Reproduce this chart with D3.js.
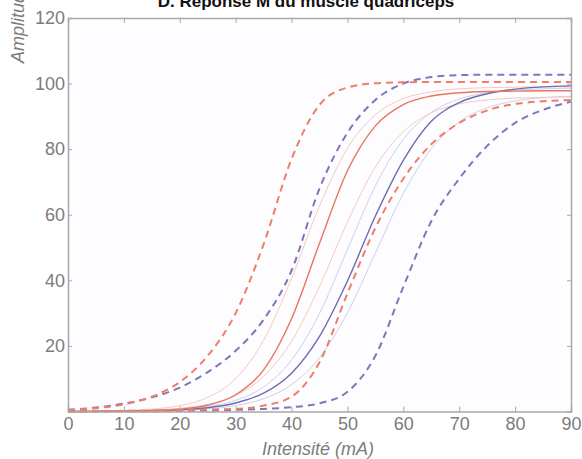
<!DOCTYPE html>
<html><head><meta charset="utf-8">
<script src="https://cdn.jsdelivr.net/npm/d3@7/dist/d3.min.js"></script>
<style>body{margin:0;background:#fff}svg{display:block}</style>
</head><body><svg id="c" width="582" height="459"></svg>
<script>
const xs = [0,5,10,15,20,25,30,35,40,45,50,55,60,65,70,75,80,85,90];
const redDashedA  = [0.5,1.0,2.2,4.5,9,17,30,51,77,93.5,98.8,100.1,100.4,100.5,100.5,100.5,100.5,100.5,100.5];
const blueDashedA = [0.5,1.2,2.4,4.3,7.3,12,18.5,28,43,68,85,95,100,102,102.6,102.7,102.7,102.7,102.7];
const redSolid    = [0,0.05,0.1,0.3,0.7,1.9,5.1,12.7,28.3,51.3,73.4,87.1,93.6,96.2,97.2,97.6,97.7,97.8,97.8];
const blueSolid   = [0.02,0.05,0.1,0.23,0.52,1.16,2.6,5.6,11.7,22.9,39.8,59.6,76.6,88.5,94.2,96.9,98.3,99.0,99.3];
const redDashedB  = [0,0.1,0.2,0.3,0.4,0.6,0.8,1.8,4.5,15,36,56,71,81.5,88,91.8,93.8,94.6,95];
const blueDashedB = [0,0,0.1,0.1,0.2,0.3,0.5,0.8,1.3,2.5,6,17,38,58,71,81,88,92,94.5];
const lightRed1   = [0.05,0.12,0.3,0.73,1.78,4.3,10,21.7,40.6,62.7,80.3,90.5,95.4,97.5,98.4,98.75,98.9,99,99];
const lightRed2   = [0.03,0.07,0.18,0.42,0.97,2.2,4.9,10.7,21.4,38.1,57.8,74.6,85.3,91.1,93.8,95,95.6,95.8,95.9];
const lightBlue1  = [0.03,0.06,0.13,0.29,0.66,1.5,3.4,7.5,15.7,29.9,49.4,68.8,83,91.2,95.3,97.2,98,98.4,98.6];
const lightBlue2  = [0.02,0.04,0.07,0.17,0.37,0.8,1.8,3.9,8.2,16.4,30.1,48.3,66.5,80.1,88.3,92.6,94.7,95.7,96.1];
const xTicks = [0,10,20,30,40,50,60,70,80,90];
const yTicks = [20,40,60,80,100,120];
const title = "D. Réponse M du muscle quadriceps";
const xLabel = "Intensité (mA)";
const yLabel = "Amplitude (mV)";

const svg = d3.select("#c");
const L=68, R=571, T=18, B=411.5;
const x = d3.scaleLinear().domain([0,90]).range([L,R]);
const y = d3.scaleLinear().domain([0,120]).range([B,T]);

svg.append("rect").attr("x",L).attr("y",T).attr("width",R-L).attr("height",B-T).attr("fill","#fdfdff");

const series = [
  {v:lightBlue2, c:"#cdd0ea", w:1, d:null},
  {v:lightBlue1, c:"#cdd0ea", w:1, d:null},
  {v:lightRed2, c:"#f7c8bf", w:1, d:null},
  {v:lightRed1, c:"#f7c8bf", w:1, d:null},
  {v:blueSolid, c:"#6e6cb0", w:1.4, d:null},
  {v:redSolid, c:"#ea745f", w:1.4, d:null},
  {v:blueDashedB, c:"#7d77ba", w:2, d:"7,5"},
  {v:redDashedB, c:"#ee7e66", w:2, d:"7,5"},
  {v:blueDashedA, c:"#7d77ba", w:2, d:"7,5"},
  {v:redDashedA, c:"#ee7e66", w:2, d:"7,5"}
];
const line = d3.line().x((d,i)=>x(xs[i])).y(d=>y(d)).curve(d3.curveMonotoneX);
const g = svg.append("g");
series.forEach(s=>{
  g.append("path").attr("d",line(s.v)).attr("fill","none").attr("stroke",s.c)
   .attr("stroke-width",s.w).attr("stroke-dasharray",s.d);
});

const frameC="#aca6a6";
const fontF="'Liberation Sans', Arial, sans-serif";
const xb = svg.append("g").attr("transform",`translate(0,${B})`)
  .call(d3.axisBottom(x).tickValues(xTicks).tickSize(-5).tickPadding(10));
const xt = svg.append("g").attr("transform",`translate(0,${T})`)
  .call(d3.axisTop(x).tickValues(xTicks).tickSize(-5).tickFormat(""));
const yl = svg.append("g").attr("transform",`translate(${L},0)`)
  .call(d3.axisLeft(y).tickValues(yTicks).tickSize(-4).tickPadding(6));
const yr = svg.append("g").attr("transform",`translate(${R},0)`)
  .call(d3.axisRight(y).tickValues(yTicks).tickSize(-4).tickFormat(""));
[xb,xt,yl,yr].forEach(a=>{
  a.selectAll("path.domain").attr("stroke",frameC).attr("stroke-width",1.5);
  a.selectAll("line").attr("stroke",frameC);
  a.selectAll("text").attr("fill","#7c7c7c").style("font-family",fontF).style("font-size","18px");
});
xb.selectAll("text").attr("dy","0.71em").attr("y",6);
yl.selectAll(".tick text").attr("x",-3);

svg.append("text").attr("x",306).attr("y",7).attr("text-anchor","middle")
  .style("font-family",fontF).style("font-weight","bold").style("font-size","17px").attr("fill","#111").text(title);
svg.append("text").attr("x",318).attr("y",455).attr("text-anchor","middle")
  .style("font-family",fontF).style("font-style","italic").style("font-size","18px").attr("fill","#7c7c7c").text(xLabel);
svg.append("text").attr("transform","translate(24,63) rotate(-90)").attr("text-anchor","start")
  .style("font-family",fontF).style("font-style","italic").style("font-size","18px").attr("fill","#7c7c7c").text(yLabel);
</script></body></html>
